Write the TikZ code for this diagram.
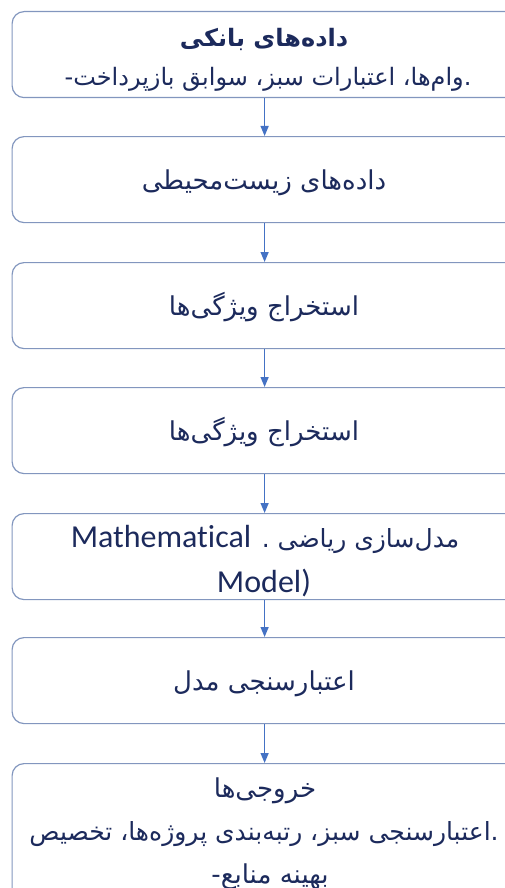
\documentclass[tikz,border=0pt]{standalone}
\usepackage{fontspec}
\TeXXeTstate=1
\newfontfamily\fa[Script=Arabic]{DejaVu Sans}
\newfontfamily\lat[Ligatures=NoCommon]{Carlito}
\usetikzlibrary{arrows.meta}
\definecolor{boxline}{RGB}{130,150,190}
\definecolor{txt}{RGB}{28,42,92}
\definecolor{arr}{RGB}{68,114,196}
\begin{document}
\begin{tikzpicture}[x=1pt,y=1pt,
 box/.style={draw=boxline, line width=1.2pt, rounded corners=12pt, minimum width=505pt, minimum height=86pt, inner sep=0pt, anchor=north west},
 lbl/.style={text=txt, inner sep=0pt, anchor=base, font=\fa\fontsize{26}{30}\selectfont},
 lbls/.style={lbl, font=\fa\fontsize{24}{30}\selectfont},
 lblm/.style={lbl, font=\fa\fontsize{25}{30}\selectfont},
 lblb/.style={lbl, font=\fa\bfseries\fontsize{24}{30}\selectfont},
 latin/.style={text=txt, inner sep=0pt, anchor=base, font=\lat\fontsize{32}{40}\selectfont},
 conn/.style={draw=arr, line width=1.3pt, -{Triangle[length=10pt,width=8pt]}}]
\useasboundingbox (0,0) rectangle (505,-888);
\clip (0,0) rectangle (505,-888);
\node[box] (b1) at (11.5,-11) {};
\node[box] (b2) at (11.5,-136) {};
\node[box] (b3) at (11.5,-262) {};
\node[box] (b4) at (11.5,-387) {};
\node[box] (b5) at (11.5,-513) {};
\node[box] (b6) at (11.5,-637) {};
\node[box, minimum height=170pt] (b7) at (11.5,-763) {};
\draw[conn] (b1.south) -- (b2.north);
\draw[conn] (b2.south) -- (b3.north);
\draw[conn] (b3.south) -- (b4.north);
\draw[conn] (b4.south) -- (b5.north);
\draw[conn] (b5.south) -- (b6.north);
\draw[conn] (b6.south) -- (b7.north);
\node[lblb] (t1a) at (264,-47) {\beginR داده‌های بانکی\endR};
\node[lbls] (t1b) at (268,-86) {\beginR .وام‌ها، اعتبارات سبز، سوابق بازپرداخت-\endR};
\node[lbl] (t2) at (264,-189) {\beginR داده‌های زیست‌محیطی\endR};
\node[lbl] (t3) at (264,-315) {\beginR استخراج ویژگی‌ها\endR};
\node[lbl] (t4) at (264,-440) {\beginR استخراج ویژگی‌ها\endR};
\node[lblm] (t5a) at (265,-547) {\beginR مدل‌سازی ریاضی . \beginL{\lat\fontsize{32}{40}\selectfont Mathematical}\endL\endR};
\node[latin] (t5b) at (264,-592) {Model)};
\node[lbl] (t6) at (264,-690) {\beginR اعتبارسنجی مدل\endR};
\node[lbl] (t7a) at (265,-797) {\beginR خروجی‌ها\endR};
\node[lblm] (t7b) at (264,-840) {\beginR .اعتبارسنجی سبز، رتبه‌بندی پروژه‌ها، تخصیص\endR};
\node[lbl] (t7c) at (270,-883) {\beginR بهینه منابع-\endR};
\end{tikzpicture}
\end{document}
